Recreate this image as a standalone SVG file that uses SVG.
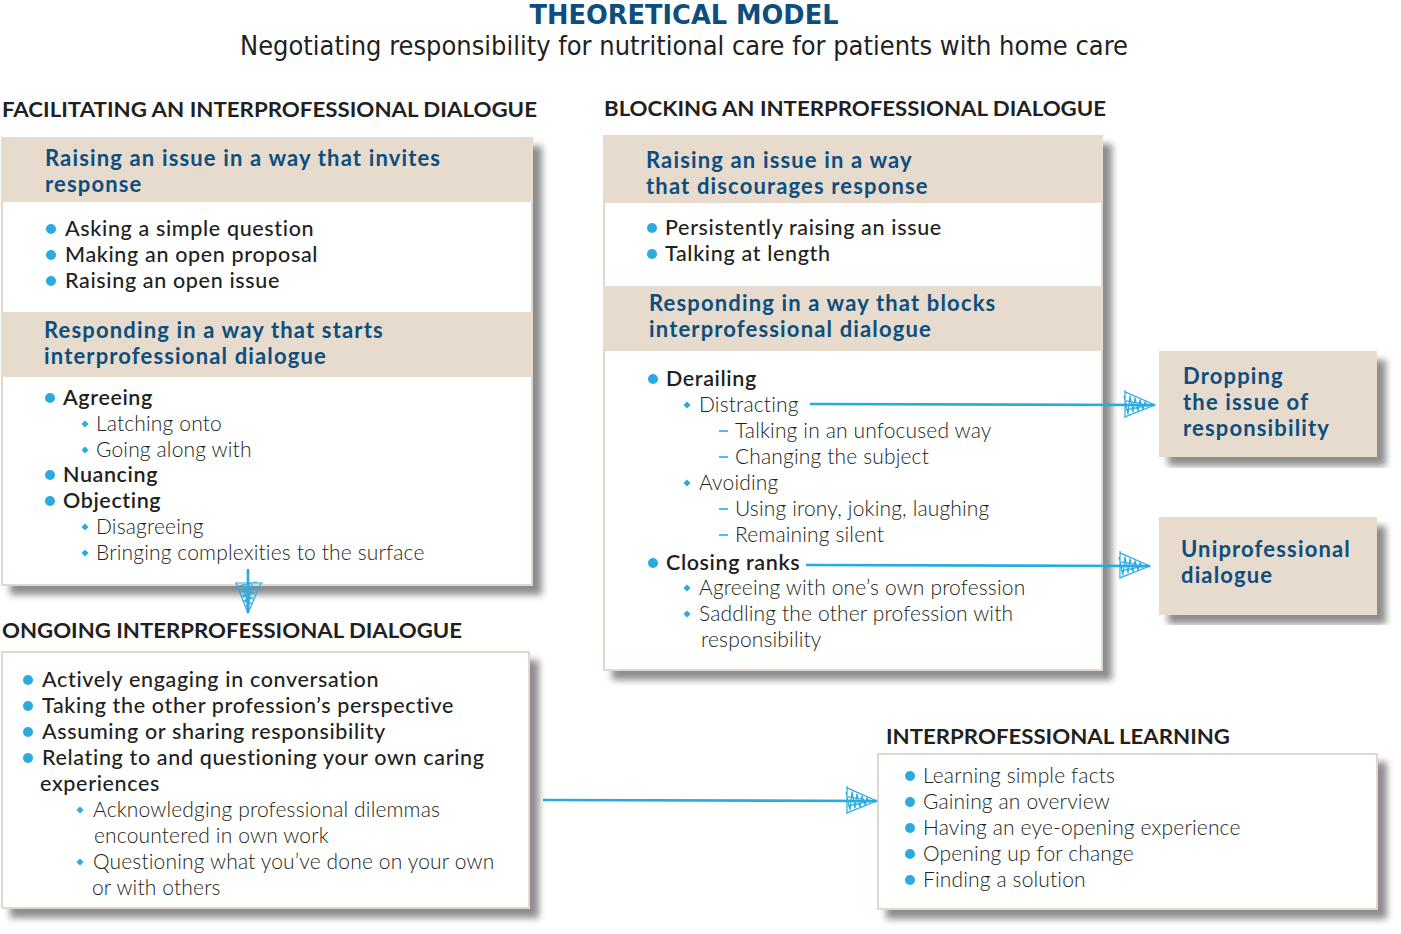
<svg xmlns="http://www.w3.org/2000/svg" width="1401" height="934" viewBox="0 0 1401 934">
<style>
.t{font-family:Lato,"Open Sans",sans-serif;font-size:21.5px;fill:#231f20;font-weight:500;letter-spacing:0.65px}
.tm{font-family:Lato,"Open Sans",sans-serif;font-size:21.5px;fill:#231f20;font-weight:600;letter-spacing:0.6px}
.tl{font-family:Lato,"Open Sans",sans-serif;font-size:21px;fill:#231f20;font-weight:300;letter-spacing:0.15px}
.h{font-family:Lato,"Open Sans",sans-serif;font-size:22px;font-weight:700;fill:#0d4e7e;letter-spacing:1.15px}
.sec{font-family:Lato,"Open Sans",sans-serif;font-size:20px;font-weight:700;fill:#231f20}
.title{font-family:"Liberation Sans Narrow","DejaVu Sans Condensed","Liberation Sans",sans-serif;font-size:26px;font-weight:700;fill:#0d4e7e}
.sub{font-family:"Liberation Sans Narrow","DejaVu Sans Condensed","Liberation Sans",sans-serif;font-size:27px;fill:#231f20}
.box{fill:#fff;stroke:#e2d7c8;stroke-width:2}
.band{fill:#e6dbcd}
.b{fill:#29abe2}
.dash{stroke:#29abe2;stroke-width:1.6}
.conn{stroke:#29abe2;stroke-width:2.6;fill:none}
</style>
<defs>
<filter id="sh" x="-5%" y="-5%" width="115%" height="115%">
<feGaussianBlur in="SourceAlpha" stdDeviation="3.5" result="bl"/>
<feOffset in="bl" dx="9" dy="9" result="of"/>
<feComponentTransfer in="of" result="sf"><feFuncA type="linear" slope="0.45"/></feComponentTransfer>
<feMerge><feMergeNode in="sf"/><feMergeNode in="SourceGraphic"/></feMerge>
</filter>
<marker id="ah" markerUnits="userSpaceOnUse" viewBox="-34 -15 36 30" refX="0" refY="0" markerWidth="36" markerHeight="30" orient="auto">
<path d="M-30,-13 L0,0 L-30,12 Z M-30,-15 L-30,13 M-31,-9 L-27,9 L-25,-9 L-22,7 L-20,-7 L-17,6 L-15,-5 L-12,4 L-10,-3 L-7,2 M-29,-4 L-5,0 L-29,5" fill="none" stroke="#29abe2" stroke-width="1.2" stroke-linejoin="round"/>
</marker>
<path id="dm" d="M0,-3.5 L3.5,0 L0,3.5 L-3.5,0 Z"/>
</defs>
<rect width="1401" height="934" fill="#fff"/>

<g id="header">
<text class="title" x="684" y="24" text-anchor="middle" textLength="309" lengthAdjust="spacingAndGlyphs">THEORETICAL MODEL</text>
<text class="sub" x="684" y="55" text-anchor="middle" textLength="888" lengthAdjust="spacingAndGlyphs">Negotiating responsibility for nutritional care for patients with home care</text>
<text class="sec" x="2" y="117" textLength="535" lengthAdjust="spacingAndGlyphs">FACILITATING AN INTERPROFESSIONAL DIALOGUE</text>
<text class="sec" x="604" y="116" textLength="502" lengthAdjust="spacingAndGlyphs">BLOCKING AN INTERPROFESSIONAL DIALOGUE</text>
<text class="sec" x="2" y="638" textLength="460" lengthAdjust="spacingAndGlyphs">ONGOING INTERPROFESSIONAL DIALOGUE</text>
<text class="sec" x="886" y="744" textLength="344" lengthAdjust="spacingAndGlyphs">INTERPROFESSIONAL LEARNING</text>
</g>

<g id="facilitating">
<rect class="box" x="2" y="138" width="530" height="447" filter="url(#sh)"/>
<rect class="band" x="1" y="137" width="532" height="65"/>
<rect class="band" x="1" y="312" width="532" height="65"/>
<text class="h" x="45" y="166">Raising an issue in a way that invites</text>
<text class="h" x="45" y="192">response</text>
<circle class="b" cx="51" cy="229" r="5"/><text class="t" x="65" y="236">Asking a simple question</text>
<circle class="b" cx="51" cy="255" r="5"/><text class="t" x="65" y="262">Making an open proposal</text>
<circle class="b" cx="51" cy="281" r="5"/><text class="t" x="65" y="288">Raising an open issue</text>
<text class="h" x="44" y="338">Responding in a way that starts</text>
<text class="h" x="44" y="364">interprofessional dialogue</text>
<circle class="b" cx="50" cy="398" r="5"/><text class="tm" x="63" y="405">Agreeing</text>
<use href="#dm" class="b" x="85" y="424"/><text class="tl" x="96" y="431">Latching onto</text>
<use href="#dm" class="b" x="85" y="450"/><text class="tl" x="96" y="457">Going along with</text>
<circle class="b" cx="50" cy="475" r="5"/><text class="tm" x="63" y="482">Nuancing</text>
<circle class="b" cx="50" cy="501" r="5"/><text class="tm" x="63" y="508">Objecting</text>
<use href="#dm" class="b" x="85" y="527"/><text class="tl" x="96" y="534">Disagreeing</text>
<use href="#dm" class="b" x="85" y="553"/><text class="tl" x="96" y="560">Bringing complexities to the surface</text>
</g>

<g id="ongoing">
<rect class="box" x="2" y="652" width="527" height="256" filter="url(#sh)"/>
<circle class="b" cx="28" cy="680" r="5"/><text class="t" x="42" y="687">Actively engaging in conversation</text>
<circle class="b" cx="28" cy="706" r="5"/><text class="t" x="42" y="713">Taking the other profession’s perspective</text>
<circle class="b" cx="28" cy="732" r="5"/><text class="t" x="42" y="739">Assuming or sharing responsibility</text>
<circle class="b" cx="28" cy="758" r="5"/><text class="t" x="42" y="765">Relating to and questioning your own caring</text>
<text class="t" x="40" y="791">experiences</text>
<use href="#dm" class="b" x="80" y="810"/><text class="tl" x="93" y="817">Acknowledging professional dilemmas</text>
<text class="tl" x="94" y="843">encountered in own work</text>
<use href="#dm" class="b" x="80" y="862"/><text class="tl" x="93" y="869">Questioning what you’ve done on your own</text>
<text class="tl" x="92" y="895">or with others</text>
</g>

<g id="blocking">
<rect class="box" x="604" y="136" width="498" height="534" filter="url(#sh)"/>
<rect class="band" x="603" y="135" width="500" height="68"/>
<rect class="band" x="603" y="286" width="500" height="65"/>
<text class="h" x="646" y="168">Raising an issue in a way</text>
<text class="h" x="646" y="194">that discourages response</text>
<circle class="b" cx="652" cy="228" r="5"/><text class="t" x="665" y="235">Persistently raising an issue</text>
<circle class="b" cx="652" cy="254" r="5"/><text class="t" x="665" y="261">Talking at length</text>
<text class="h" x="649" y="311">Responding in a way that blocks</text>
<text class="h" x="649" y="337">interprofessional dialogue</text>
<circle class="b" cx="653" cy="379" r="5"/><text class="tm" x="666" y="386">Derailing</text>
<use href="#dm" class="b" x="687" y="405"/><text class="tl" x="699" y="412">Distracting</text>
<line class="dash" x1="719" y1="431" x2="728" y2="431"/><text class="tl" x="735" y="438">Talking in an unfocused way</text>
<line class="dash" x1="719" y1="457" x2="728" y2="457"/><text class="tl" x="735" y="464">Changing the subject</text>
<use href="#dm" class="b" x="687" y="483"/><text class="tl" x="699" y="490">Avoiding</text>
<line class="dash" x1="719" y1="509" x2="728" y2="509"/><text class="tl" x="735" y="516">Using irony, joking, laughing</text>
<line class="dash" x1="719" y1="535" x2="728" y2="535"/><text class="tl" x="735" y="542">Remaining silent</text>
<circle class="b" cx="653" cy="563" r="5"/><text class="tm" x="666" y="570">Closing ranks</text>
<use href="#dm" class="b" x="687" y="588"/><text class="tl" x="699" y="595">Agreeing with one’s own profession</text>
<use href="#dm" class="b" x="687" y="614"/><text class="tl" x="699" y="621">Saddling the other profession with</text>
<text class="tl" x="701" y="647">responsibility</text>
</g>

<g id="dropping">
<rect class="band" x="1159" y="351" width="218" height="106" filter="url(#sh)"/>
<text class="h" x="1183" y="384">Dropping</text>
<text class="h" x="1183" y="410">the issue of</text>
<text class="h" x="1183" y="436">responsibility</text>
</g>

<g id="uniprofessional">
<rect class="band" x="1159" y="517" width="218" height="98" filter="url(#sh)"/>
<text class="h" x="1181" y="557">Uniprofessional</text>
<text class="h" x="1181" y="583">dialogue</text>
</g>

<g id="learning">
<rect class="box" x="878" y="754" width="499" height="155" filter="url(#sh)"/>
<circle class="b" cx="910" cy="776" r="5"/><text class="tl" x="923" y="783">Learning simple facts</text>
<circle class="b" cx="910" cy="802" r="5"/><text class="tl" x="923" y="809">Gaining an overview</text>
<circle class="b" cx="910" cy="828" r="5"/><text class="tl" x="923" y="835">Having an eye-opening experience</text>
<circle class="b" cx="910" cy="854" r="5"/><text class="tl" x="923" y="861">Opening up for change</text>
<circle class="b" cx="910" cy="880" r="5"/><text class="tl" x="923" y="887">Finding a solution</text>
</g>

<g id="connectors">
<line class="conn" x1="248" y1="569" x2="248" y2="613" marker-end="url(#ah)"/>
<line class="conn" x1="810" y1="404" x2="1155" y2="405" marker-end="url(#ah)"/>
<line class="conn" x1="806" y1="565" x2="1150" y2="566" marker-end="url(#ah)"/>
<line class="conn" x1="543" y1="800" x2="877" y2="801" marker-end="url(#ah)"/>
</g>
</svg>
